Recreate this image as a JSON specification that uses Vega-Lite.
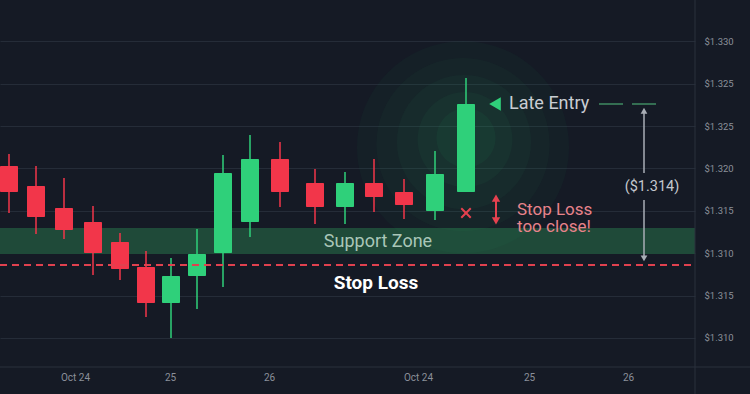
{
  "$schema": "https://vega.github.io/schema/vega-lite/v6.json",
  "width": 695,
  "height": 367,
  "padding": {"left": 0, "top": 0, "right": 55, "bottom": 27},
  "autosize": {"type": "none"},
  "background": "#151a25",
  "config": {
    "view": {"stroke": null},
    "font": "Roboto",
    "text": {"font": "Roboto"}
  },
  "datasets": {
    "candles": [
      {"t": 0.9, "open": 1.33028, "close": 1.32722, "high": 1.33170, "low": 1.32474},
      {"t": 3.6, "open": 1.32792, "close": 1.32427, "high": 1.33028, "low": 1.32226},
      {"t": 6.4, "open": 1.32533, "close": 1.32274, "high": 1.32887, "low": 1.32167},
      {"t": 9.3, "open": 1.32368, "close": 1.32002, "high": 1.32557, "low": 1.31743},
      {"t": 12.0, "open": 1.32132, "close": 1.31814, "high": 1.32238, "low": 1.31684},
      {"t": 14.6, "open": 1.31837, "close": 1.31413, "high": 1.32026, "low": 1.31248},
      {"t": 17.1, "open": 1.31413, "close": 1.31731, "high": 1.31943, "low": 1.31000},
      {"t": 19.7, "open": 1.31731, "close": 1.31991, "high": 1.32285, "low": 1.31342},
      {"t": 22.3, "open": 1.32002, "close": 1.32946, "high": 1.33158, "low": 1.31601},
      {"t": 25.0, "open": 1.32368, "close": 1.33111, "high": 1.33394, "low": 1.32191},
      {"t": 28.0, "open": 1.33111, "close": 1.32722, "high": 1.33311, "low": 1.32545},
      {"t": 31.5, "open": 1.32828, "close": 1.32545, "high": 1.32993, "low": 1.32344},
      {"t": 34.5, "open": 1.32545, "close": 1.32828, "high": 1.32957, "low": 1.32344},
      {"t": 37.4, "open": 1.32828, "close": 1.32663, "high": 1.33111, "low": 1.32486},
      {"t": 40.4, "open": 1.32722, "close": 1.32568, "high": 1.32875, "low": 1.32403},
      {"t": 43.5, "open": 1.32498, "close": 1.32934, "high": 1.33205, "low": 1.32391},
      {"t": 46.6, "open": 1.32722, "close": 1.33759, "high": 1.34066, "low": 1.32722}
    ],
    "one": [{}]
  },
  "data": {"name": "one"},
  "encoding": {
    "x": {
      "type": "quantitative",
      "scale": {"domain": [0, 69.5], "nice": false, "zero": false, "padding": 0},
      "axis": {
        "orient": "bottom",
        "title": null,
        "values": [7.5, 17.0, 26.9, 41.8, 52.9, 62.8],
        "labelExpr": "datum.value < 10 ? 'Oct 24' : datum.value < 20 ? '25' : datum.value < 30 ? '26' : datum.value < 45 ? 'Oct 24' : datum.value < 55 ? '25' : '26'",
        "grid": false,
        "ticks": false,
        "domain": false,
        "labelColor": "#8b909a",
        "labelFontSize": 10,
        "labelPadding": 5,
        "labelFont": "Roboto"
      }
    },
    "y": {
      "type": "quantitative",
      "scale": {"domain": [1.30658, 1.34986], "nice": false, "zero": false},
      "axis": {
        "orient": "right",
        "title": null,
        "values": [1.310, 1.315, 1.320, 1.325, 1.330, 1.335, 1.340, 1.345],
        "labelExpr": "{'1310':'$1.310','1315':'$1.315','1320':'$1.310','1325':'$1.315','1330':'$1.320','1335':'$1.325','1340':'$1.325','1345':'$1.330'}[''+round(datum.value*1000)]",
        "grid": true,
        "gridColor": "#252c38",
        "gridWidth": 1,
        "ticks": false,
        "domain": false,
        "labelColor": "#8b909a",
        "labelFontSize": 9.5,
        "labelPadding": 9,
        "labelAlign": "left",
        "labelFont": "Roboto"
      }
    }
  },
  "layer": [
    {
      "mark": {"type": "rect", "color": "#1f4a39"},
      "encoding": {
        "x": {"datum": 0},
        "x2": {"datum": 69.5},
        "y": {"datum": 1.31991},
        "y2": {"datum": 1.32297}
      }
    },
    {
      "mark": {"type": "point", "filled": true, "color": "#2fd07a", "opacity": 0.03, "shape": "circle"},
      "encoding": {"x": {"datum": 46.3}, "y": {"datum": 1.3325}, "size": {"value": 45000}}
    },
    {
      "mark": {"type": "point", "filled": true, "color": "#2fd07a", "opacity": 0.035, "shape": "circle"},
      "encoding": {"x": {"datum": 46.3}, "y": {"datum": 1.3328}, "size": {"value": 30000}}
    },
    {
      "mark": {"type": "point", "filled": true, "color": "#2fd07a", "opacity": 0.04, "shape": "circle"},
      "encoding": {"x": {"datum": 46.4}, "y": {"datum": 1.3331}, "size": {"value": 18000}}
    },
    {
      "mark": {"type": "point", "filled": true, "color": "#2fd07a", "opacity": 0.045, "shape": "circle"},
      "encoding": {"x": {"datum": 46.5}, "y": {"datum": 1.3334}, "size": {"value": 9000}}
    },
    {
      "mark": {"type": "point", "filled": true, "color": "#2fd07a", "opacity": 0.05, "shape": "circle"},
      "encoding": {"x": {"datum": 46.6}, "y": {"datum": 1.3336}, "size": {"value": 3500}}
    },
    {
      "data": {"name": "candles"},
      "transform": [{"calculate": "datum.close >= datum.open ? 'up' : 'down'", "as": "dir"}],
      "mark": {"type": "rule", "strokeWidth": 1.5},
      "encoding": {
        "x": {"field": "t", "type": "quantitative"},
        "y": {"field": "low", "type": "quantitative"},
        "y2": {"field": "high"},
        "color": {"field": "dir", "type": "nominal", "scale": {"domain": ["up", "down"], "range": ["#2fd07a", "#f2364a"]}, "legend": null}
      }
    },
    {
      "data": {"name": "candles"},
      "transform": [{"calculate": "datum.close >= datum.open ? 'up' : 'down'", "as": "dir"}],
      "mark": {"type": "bar", "width": 18, "cornerRadius": 1},
      "encoding": {
        "x": {"field": "t", "type": "quantitative"},
        "y": {"field": "open", "type": "quantitative"},
        "y2": {"field": "close"},
        "color": {"field": "dir", "type": "nominal", "scale": {"domain": ["up", "down"], "range": ["#2fd07a", "#f2364a"]}, "legend": null}
      }
    },
    {
      "mark": {"type": "rule", "color": "#e0414f", "strokeWidth": 2, "strokeDash": [7, 5]},
      "encoding": {"x": {"datum": 0}, "x2": {"datum": 69.5}, "y": {"datum": 1.31861}}
    },
    {
      "mark": {"type": "rule", "color": "#2a313d", "strokeWidth": 1},
      "encoding": {"x": {"datum": 69.5}, "y": {"datum": 1.30340}, "y2": {"datum": 1.34986}}
    },
    {
      "mark": {"type": "rule", "color": "#2a313d", "strokeWidth": 1},
      "encoding": {"x": {"datum": 0}, "x2": {"datum": 75}, "y": {"datum": 1.30658}}
    },
    {
      "mark": {"type": "text", "fontSize": 18, "color": "#a9c6b8", "align": "center", "baseline": "middle"},
      "encoding": {"x": {"datum": 37.8}, "y": {"datum": 1.32132}, "text": {"value": "Support Zone"}}
    },
    {
      "mark": {"type": "text", "fontSize": 19, "fontWeight": "bold", "color": "#ffffff", "align": "center", "baseline": "middle"},
      "encoding": {"x": {"datum": 37.6}, "y": {"datum": 1.31649}, "text": {"value": "Stop Loss"}}
    },
    {
      "mark": {"type": "point", "shape": "triangle-left", "filled": true, "color": "#2fd07a", "opacity": 1},
      "encoding": {"x": {"datum": 49.5}, "y": {"datum": 1.33759}, "size": {"value": 180}}
    },
    {
      "mark": {"type": "text", "fontSize": 18, "color": "#c9cdd3", "align": "left", "baseline": "middle"},
      "encoding": {"x": {"datum": 50.9}, "y": {"datum": 1.33759}, "text": {"value": "Late Entry"}}
    },
    {
      "mark": {"type": "rule", "color": "#3f8a62", "strokeWidth": 1.5, "strokeDash": [24, 9]},
      "encoding": {"x": {"datum": 59.9}, "x2": {"datum": 65.6}, "y": {"datum": 1.33759}}
    },
    {
      "mark": {"type": "rule", "color": "#a9aeb6", "strokeWidth": 1.5},
      "encoding": {"x": {"datum": 64.4}, "y": {"datum": 1.33680}, "y2": {"datum": 1.32946}}
    },
    {
      "mark": {"type": "rule", "color": "#a9aeb6", "strokeWidth": 1.5},
      "encoding": {"x": {"datum": 64.4}, "y": {"datum": 1.32627}, "y2": {"datum": 1.31940}}
    },
    {
      "mark": {"type": "point", "shape": "triangle-up", "filled": true, "color": "#a9aeb6", "opacity": 1},
      "encoding": {"x": {"datum": 64.4}, "y": {"datum": 1.33680}, "size": {"value": 45}}
    },
    {
      "mark": {"type": "point", "shape": "triangle-down", "filled": true, "color": "#a9aeb6", "opacity": 1},
      "encoding": {"x": {"datum": 64.4}, "y": {"datum": 1.31940}, "size": {"value": 45}}
    },
    {
      "mark": {"type": "text", "fontSize": 14.5, "color": "#c4c8ce", "align": "center", "baseline": "middle"},
      "encoding": {"x": {"datum": 65.2}, "y": {"datum": 1.32781}, "text": {"value": "($1.314)"}}
    },
    {
      "mark": {"type": "rule", "color": "#e5414f", "strokeWidth": 2},
      "encoding": {"x": {"datum": 49.6}, "y": {"datum": 1.32650}, "y2": {"datum": 1.32380}}
    },
    {
      "mark": {"type": "point", "shape": "triangle-up", "filled": true, "color": "#e5414f", "opacity": 1},
      "encoding": {"x": {"datum": 49.6}, "y": {"datum": 1.32650}, "size": {"value": 70}}
    },
    {
      "mark": {"type": "point", "shape": "triangle-down", "filled": true, "color": "#e5414f", "opacity": 1},
      "encoding": {"x": {"datum": 49.6}, "y": {"datum": 1.32380}, "size": {"value": 70}}
    },
    {
      "mark": {"type": "point", "shape": "M-1,-1L1,1M1,-1L-1,1", "filled": false, "color": "#e5414f", "strokeWidth": 2, "opacity": 1},
      "encoding": {"x": {"datum": 46.6}, "y": {"datum": 1.32474}, "size": {"value": 90}}
    },
    {
      "mark": {"type": "text", "fontSize": 17, "color": "#e8838b", "align": "left", "baseline": "middle", "lineHeight": 17.5},
      "encoding": {"x": {"datum": 51.7}, "y": {"datum": 1.32515}, "text": {"value": ["Stop Loss", "too close!"]}}
    }
  ]
}
